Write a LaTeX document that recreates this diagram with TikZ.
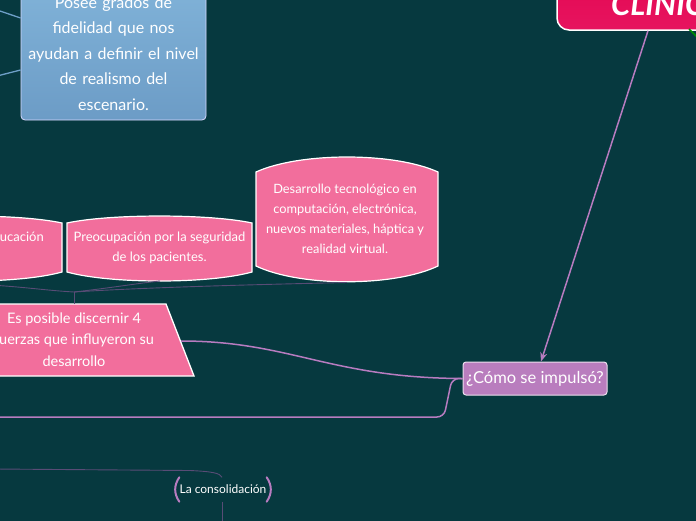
\documentclass[tikz,border=0pt]{standalone}
\usepackage{fontspec}
\setmainfont{Lato}
\usetikzlibrary{arrows.meta}
\definecolor{bg}{RGB}{6,57,63}
\definecolor{pinkbox}{RGB}{242,110,156}
\definecolor{purplebox}{RGB}{185,125,190}
\definecolor{pline}{RGB}{183,124,192}
\definecolor{branchc}{RGB}{88,76,118}
\definecolor{bluetop}{RGB}{128,178,216}
\definecolor{bluebot}{RGB}{108,156,198}
\definecolor{blueline}{RGB}{110,160,200}
\definecolor{redtop}{RGB}{228,0,75}
\definecolor{redbot}{RGB}{230,20,95}
\tikzset{
  bannerbox/.style={fill=pinkbox, draw=white, line width=1.2pt},
  txt/.style={text=white, align=center, inner sep=0pt},
  pconn/.style={draw=pline, line width=1.5pt},
  branch/.style={draw=branchc, line width=0.9pt},
  bluecon/.style={draw=blueline, line width=1.3pt},
  bracket/.style={draw=pline, line width=2pt, line cap=round},
}
\begin{document}
\begin{tikzpicture}[x=1pt,y=-1pt]
\useasboundingbox (0,0) rectangle (696,520);
\fill[bg] (-5,-5) rectangle (701,525);

% blue box and its connectors
\node[txt, top color=bluetop, bottom color=bluebot, draw=white!85!blue, line width=0.8pt,
      rounded corners=4pt, minimum width=185pt, minimum height=133pt, text width=184pt,
      font=\fontsize{16}{25.5}\selectfont] (blue) at (113.5,53.5)
  {Posee grados de\\fidelidad que nos\\ayudan a definir el nivel\\de realismo del\\escenario.};
\coordinate (bl1) at (-3,10);
\coordinate (bl2) at (-3,76);
\draw[bluecon] (bl1) -- ([yshift=35.5pt]blue.west);
\draw[bluecon] (bl2) -- ([yshift=-16.5pt]blue.west);

% CLINIC box
\node[top color=redtop, bottom color=redbot, draw=white, line width=1.5pt, rounded corners=12pt,
      minimum width=170pt, minimum height=90pt, inner sep=0pt] (clin) at (642,-15) {};
\node[txt, anchor=base west, font=\fontsize{31}{31}\selectfont\bfseries\itshape] (clinlbl) at (611,15) {CLINICA};
\draw[draw=green!55!black, line width=1.5pt] (689,29) -- (697,37);

% como
\node[txt, fill=purplebox, draw=white!75!purplebox, line width=1pt, rounded corners=3pt,
      minimum width=144pt, minimum height=33pt, font=\fontsize{16.5}{18}\selectfont] (como) at (535,378.5)
  {¿Cómo se impulsó?};
\draw[pconn, -{Stealth[length=9pt,width=7pt]}] ([xshift=6pt]clin.south) -- ([xshift=6pt]como.north);

% banner boxes
\draw[bannerbox] (-122,223) .. controls (-79,213.7) and (19,213.7) .. (62,223) -- (62,272)
  .. controls (19,284) and (-79,284) .. (-122,272) -- cycle;
\draw[bannerbox] (67,223) .. controls (110,213.7) and (209,213.7) .. (252,223) -- (252,272)
  .. controls (209,284) and (110,284) .. (67,272) -- cycle;
\draw[bannerbox] (256,172) .. controls (300,152) and (394,152) .. (438,172) -- (438,266)
  .. controls (394,287) and (300,287) .. (256,266) -- cycle;
\node[txt, anchor=east, font=\fontsize{13}{20}\selectfont] (edu) at (44,237) {Educación};
\node[txt, font=\fontsize{13}{20}\selectfont] (preo) at (159.5,248)
  {Preocupación por la seguridad\\de los pacientes.};
\node[txt, font=\fontsize{12.8}{20}\selectfont] (des) at (345,218.5)
  {Desarrollo tecnológico en\\computación, electrónica,\\nuevos materiales, háptica y\\realidad virtual.};
\coordinate (eduS) at (-30,284);
\coordinate (preoS) at (160,281);
\coordinate (desS) at (347,282.5);

% trapezoid
\draw[fill=pinkbox, draw=white, line width=1.3pt] (-60,304) -- (166,304) -- (194,376) -- (-80,376) -- cycle;
\node[txt, font=\fontsize{14.5}{21.5}\selectfont] (trap) at (74,339.5)
  {Es posible discernir 4\\fuerzas que influyeron su\\desarrollo};
\coordinate (trapTop) at (74,304);
\coordinate (trapR) at (181,341);
\coordinate (hub) at (74,292);
\draw[branch] (trapTop) -- (hub);
\draw[branch] (hub) .. controls (110,288) and (140,283) .. (preoS);
\draw[branch] (hub) .. controls (150,287) and (280,284) .. (desS);
\draw[branch] (hub) .. controls (40,290) and (20,286) .. (eduS);

% connectors from como
\draw[pconn] (trapR) .. controls (290,341) and (330,378) .. (como.west);
\coordinate (leftEnd) at (-5,417);
\draw[pconn, rounded corners=7pt] (como.west) -- (452,378.5) -- (444,417) -- (leftEnd);

% la consolidacion
\node[txt, font=\fontsize{12}{13}\selectfont, minimum width=90pt, minimum height=24pt] (cons) at (223,489.5)
  {La consolidación};
\draw[bracket] ([xshift=1.5pt]cons.north west) .. controls ([xshift=-4pt,yshift=4pt]cons.west) and ([xshift=-4pt,yshift=-4pt]cons.west) .. ([xshift=1.5pt]cons.south west);
\draw[bracket] ([xshift=-1.5pt]cons.north east) .. controls ([xshift=4pt,yshift=4pt]cons.east) and ([xshift=4pt,yshift=-4pt]cons.east) .. ([xshift=-1.5pt]cons.south east);
\coordinate (consIn) at (-5,469);
\coordinate (consOut) at (222,525);
\draw[branch] (consIn) -- (190,470.5) .. controls (212,471.5) and (220,473) .. ([xshift=-1pt]cons.north);
\draw[branch] ([xshift=-1pt]cons.south) -- (consOut);
\end{tikzpicture}
\end{document}
